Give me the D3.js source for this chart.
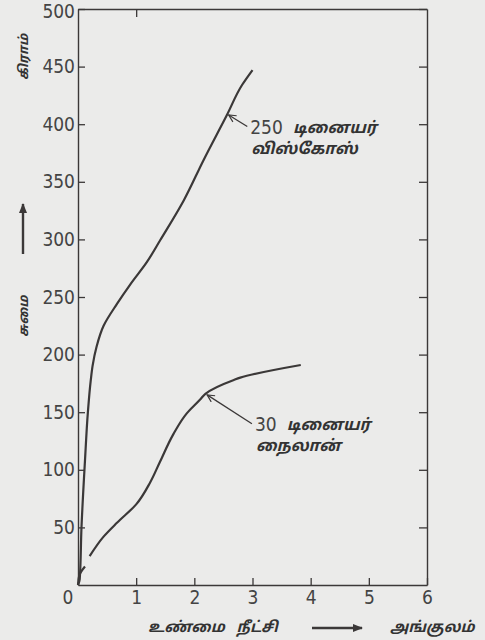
<!DOCTYPE html>
<html>
<head>
<meta charset="utf-8">
<script src="https://cdn.jsdelivr.net/npm/d3@7/dist/d3.min.js"></script>
<style>
  html, body { margin: 0; padding: 0; background: #ebebea; }
  svg { display: block; }
  .num { font-family: 'Liberation Sans Narrow', 'DejaVu Sans Condensed', 'DejaVu Sans', sans-serif; font-size: 19px; fill: #444; }
  .ta { font-family: 'Noto Sans Tamil', 'Lohit Tamil', 'Noto Sans', sans-serif; font-weight: bold; font-style: italic; fill: #333; }
</style>
</head>
<body>
<svg id="chart" width="485" height="640"></svg>
<script>
// ---- data ----
const xTicks = [1, 2, 3, 4, 5, 6];
const yTicks = [50, 100, 150, 200, 250, 300, 350, 400, 450, 500];
// 250 denier viscose: [extension (inches), load (grams)]
const viscoseX = [0, 0.03, 0.06, 0.12, 0.17, 0.22, 0.25, 0.32, 0.44, 0.67, 0.90, 1.18, 1.41, 1.82, 2.16, 2.56, 2.82, 3.0];
const viscoseY = [0, 5, 50, 108, 150, 178, 190, 207, 225, 244, 261, 280, 299, 334, 369, 408, 434, 447];
// 30 denier nylon (null = small break in the printed line)
const nylonX = [0, 0.02, 0.12, null, 0.20, 0.44, 0.67, 1.0, 1.24, 1.41, 1.64, 1.87, 2.10, 2.19, 2.68, 2.79, 3.83];
const nylonY = [0, 8, 16, null, 25, 42, 54, 70, 89, 107, 131, 149, 161, 166, 178, 180, 191];
const labels = {
  viscose: ["250", "டினையர்", "விஸ்கோஸ்"],
  nylon: ["30", "டினையர்", "நைலான்"],
  xTitle: "உண்மை நீட்சி",
  xUnit: "அங்குலம்",
  yTop: "கிராம்",
  yTitle: "சுமை"
};
// annotation anchors: [curve point x, y, text point x, y]
const viscoseNote = [2.59, 408, 2.91, 398];
const nylonNote = [2.22, 165, 2.99, 140];

// ---- drawing ----
const svg = d3.select("#chart");
const x = d3.scaleLinear().domain([0, 6]).range([78, 427]);
const y = d3.scaleLinear().domain([0, 500]).range([585, 9]);
const ink = "#3b3838";

const defs = svg.append("defs");
defs.append("marker").attr("id", "ah").attr("viewBox", "0 0 10 10")
  .attr("refX", 9).attr("refY", 5).attr("markerWidth", 9).attr("markerHeight", 9)
  .attr("markerUnits", "userSpaceOnUse").attr("orient", "auto")
  .append("path").attr("d", "M1,1 L9,5 L1,9").attr("fill", "none").attr("stroke", ink).attr("stroke-width", 1.3);
defs.append("marker").attr("id", "ahs").attr("viewBox", "0 0 10 10")
  .attr("refX", 9).attr("refY", 5).attr("markerWidth", 12).attr("markerHeight", 10)
  .attr("markerUnits", "userSpaceOnUse").attr("orient", "auto")
  .append("path").attr("d", "M0,1 L10,5 L0,9 Z").attr("fill", ink);

function styleAxis(g) {
  g.selectAll("path.domain").attr("stroke", ink).attr("stroke-width", 1.4);
  g.selectAll(".tick line").attr("stroke", ink).attr("stroke-width", 1.3);
  g.selectAll(".tick text").attr("class", "num").attr("font-family", null).attr("font-size", null).attr("fill", null);
}

const yAxisG = svg.append("g").attr("transform", `translate(${x(0)},0)`)
  .call(d3.axisLeft(y).tickValues(yTicks).tickSize(-7).tickSizeOuter(0).tickPadding(3).tickFormat(d3.format("d")))
  .call(styleAxis);
// keep the topmost label inside the picture
yAxisG.selectAll(".tick text").filter(d => d === 500).attr("dy", "0.45em");

svg.append("g").attr("transform", `translate(${x(6)},0)`)
  .call(d3.axisRight(y).tickValues(yTicks).tickSize(-8).tickSizeOuter(0).tickFormat(""))
  .call(styleAxis);
svg.append("g").attr("transform", `translate(0,${y(0)})`)
  .call(d3.axisBottom(x).tickValues(xTicks).tickSize(-7).tickSizeOuter(0).tickPadding(6).tickFormat(d3.format("d")))
  .call(styleAxis);
svg.append("g").attr("transform", `translate(0,${y(500)})`)
  .call(d3.axisTop(x).tickValues([1]).tickSize(-8).tickSizeOuter(0).tickFormat(""))
  .call(styleAxis);

svg.append("text").attr("class", "num").attr("x", x(0) - 10).attr("y", y(0) + 6)
  .attr("dy", "0.71em").attr("text-anchor", "middle").text("0");

// curves (both rise monotonically in load, so interpolate along the load axis)
const line = d3.line()
  .defined(d => d[0] !== null)
  .x(d => x(d[0])).y(d => y(d[1]))
  .curve(d3.curveMonotoneY);
svg.append("path").datum(viscoseX.map((v, i) => [v, viscoseY[i]]))
  .attr("d", line).attr("fill", "none").attr("stroke", ink).attr("stroke-width", 2.2);
svg.append("path").datum(nylonX.map((v, i) => [v, nylonY[i]]))
  .attr("d", line).attr("fill", "none").attr("stroke", ink).attr("stroke-width", 2.2);

// annotations
function note(a, t) {
  svg.append("line")
    .attr("x1", x(a[2])).attr("y1", y(a[3]))
    .attr("x2", x(a[0])).attr("y2", y(a[1]))
    .attr("stroke", ink).attr("stroke-width", 1.3).attr("marker-end", "url(#ah)");
  const tx = x(a[2]) + 3, ty = y(a[3]);
  const num = svg.append("text").attr("x", tx).attr("y", ty + 7).attr("class", "num").text(t[0]);
  const w = num.node().getComputedTextLength();
  svg.append("text").attr("x", tx + w + 10).attr("y", ty + 6)
    .attr("class", "ta").attr("font-size", 16).text(t[1]);
  svg.append("text").attr("x", tx + 1).attr("y", ty + 27)
    .attr("class", "ta").attr("font-size", 16).text(t[2]);
}
note(viscoseNote, labels.viscose);
note(nylonNote, labels.nylon);

// x title
svg.append("text").attr("class", "ta").attr("font-size", 15).attr("x", 148).attr("y", 632)
  .attr("word-spacing", 8).text(labels.xTitle);
svg.append("line").attr("x1", 312).attr("y1", 628).attr("x2", 362).attr("y2", 628)
  .attr("stroke", ink).attr("stroke-width", 2.4).attr("marker-end", "url(#ahs)");
svg.append("text").attr("class", "ta").attr("font-size", 15).attr("x", 390).attr("y", 632).text(labels.xUnit);

// y title (rotated)
svg.append("text").attr("class", "ta").attr("font-size", 13)
  .attr("transform", "translate(28,80) rotate(-90)").text(labels.yTop);
svg.append("line").attr("x1", 23).attr("y1", 254).attr("x2", 23).attr("y2", 204)
  .attr("stroke", ink).attr("stroke-width", 2.4).attr("marker-end", "url(#ahs)");
svg.append("text").attr("class", "ta").attr("font-size", 13)
  .attr("transform", "translate(28,337) rotate(-90)").text(labels.yTitle);
</script>
</body>
</html>
